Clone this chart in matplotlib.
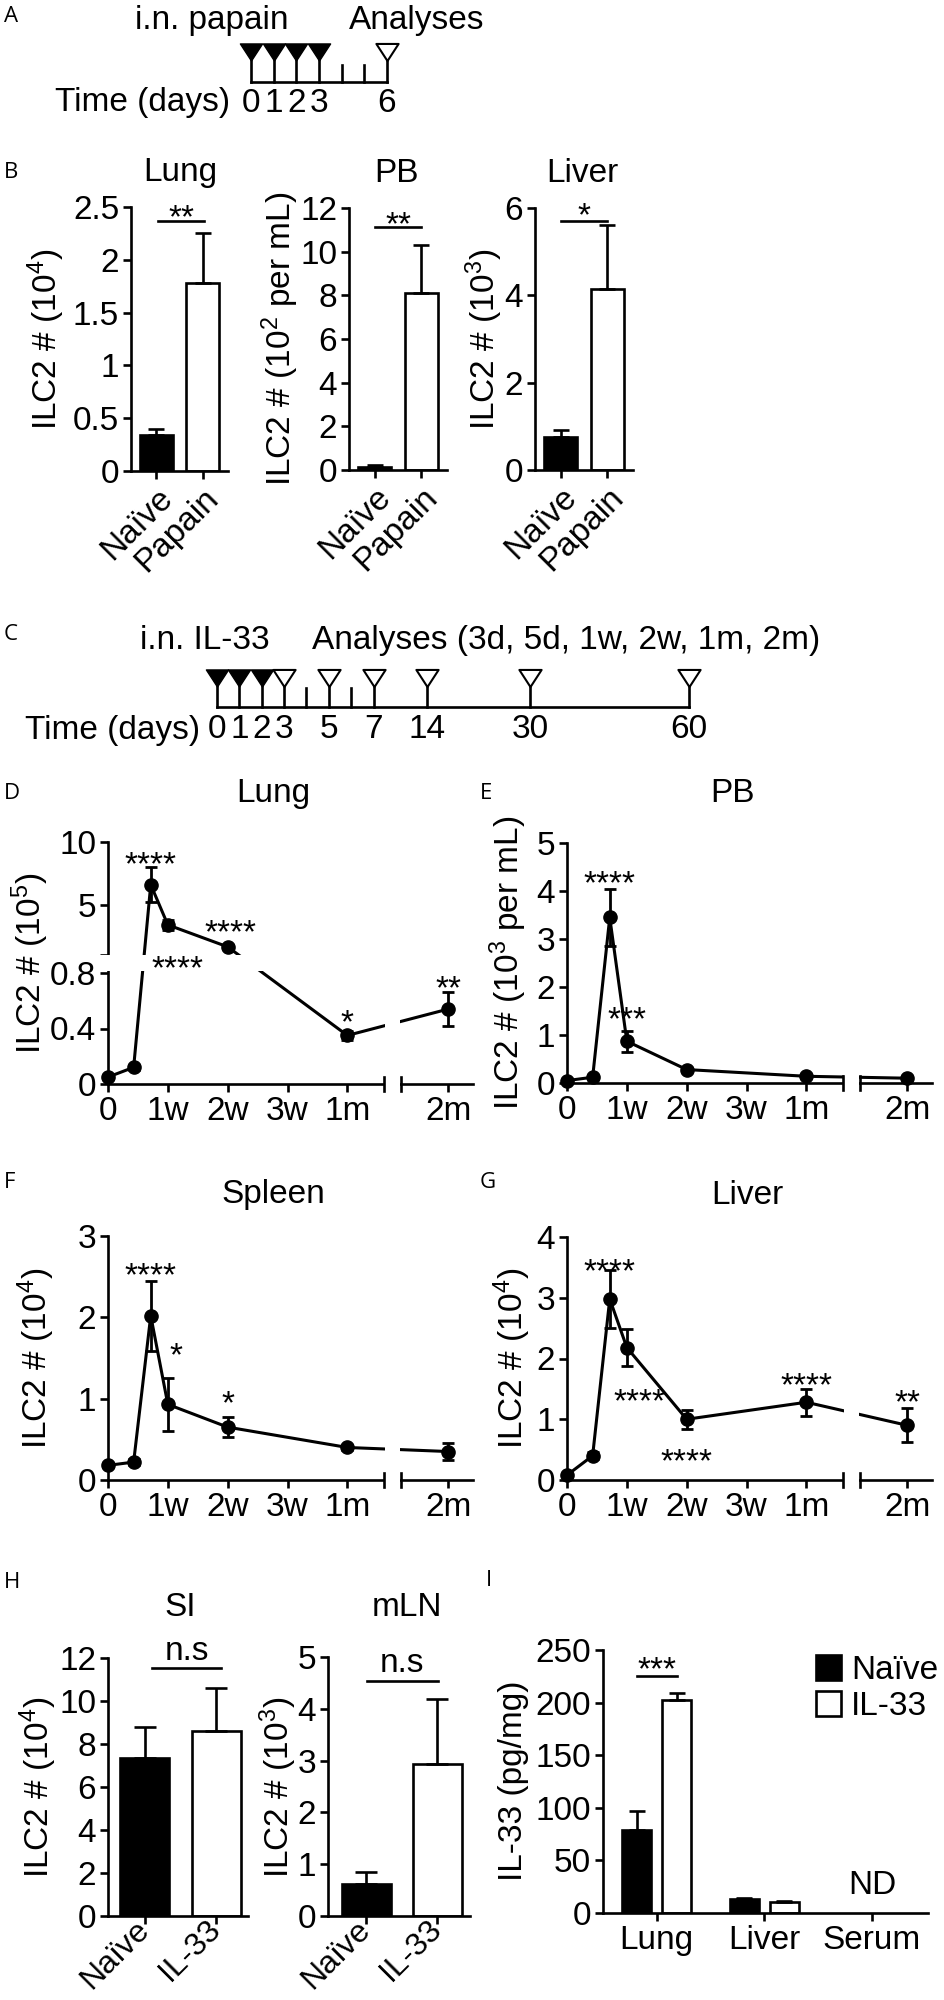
import numpy as np
import matplotlib
matplotlib.use('Agg')
import matplotlib.pyplot as plt
from matplotlib.patches import Patch
from matplotlib.path import Path

plt.rcParams['font.family'] = ['Liberation Sans', 'DejaVu Sans']
plt.rcParams['mathtext.fontset'] = 'custom'
plt.rcParams['mathtext.rm'] = 'Liberation Sans'
plt.rcParams['mathtext.it'] = 'Liberation Sans:italic'
plt.rcParams['mathtext.bf'] = 'Liberation Sans:bold'

nan = np.nan
# ---------------- data ----------------
# A: papain schedule (days)
a_days = [0, 1, 2, 3, 4, 5, 6]
a_inject_days = [0, 1, 2, 3]
a_analysis_days = [6]
a_plain_days = [4, 5]
a_label_days = [0, 1, 2, 3, 6]

# B: ILC2 numbers after papain
b_groups = ['Naïve', 'Papain']
b_lung = [0.34, 1.78]
b_lung_err = [0.06, 0.47]
b_pb = [0.15, 8.1]
b_pb_err = [0.06, 2.2]
b_liver = [0.75, 4.15]
b_liver_err = [0.17, 1.45]

# C: IL-33 schedule
c_days = [0, 1, 2, 3, 4, 5, 6, 7, 14, 30, 60]
c_inject_days = [0, 1, 2]
c_analysis_days = [3, 5, 7, 14, 30, 60]
c_plain_days = [4, 6]
c_label_days = [0, 1, 2, 3, 5, 7, 14, 30, 60]

# D-G: time course after IL-33
t_days = [0, 3, 5, 7, 14, 28, 60]
t_ticks = [0, 7, 14, 21, 28, 60]
t_ticklabels = ['0', '1w', '2w', '3w', '1m', '2m']
lung = [0.05, 0.12, 6.6, 3.4, 1.65, 0.35, 0.54]
lung_err = [0.01, 0.02, 1.4, 0.4, 0.15, 0.03, 0.12]
pb = [0.05, 0.12, 3.45, 0.87, 0.28, 0.14, 0.10]
pb_err = [0.01, 0.02, 0.6, 0.22, 0.03, 0.02, 0.02]
spleen = [0.18, 0.22, 2.02, 0.93, 0.65, 0.40, 0.35]
spleen_err = [0.02, 0.04, 0.43, 0.33, 0.12, 0.03, 0.10]
liver = [0.08, 0.40, 2.98, 2.18, 1.00, 1.28, 0.90]
liver_err = [0.02, 0.06, 0.48, 0.30, 0.16, 0.22, 0.28]

lung_sig = [(5, 9.0, '****'), (14.3, 3.6, '****'), (8.1, 0.9, '****'), (28, 0.51, '*'), (60, 0.76, '**')]
pb_sig = [(5, 4.35, '****'), (7, 1.52, '***')]
spleen_sig = [(5, 2.63, '****'), (8, 1.65, '*'), (14, 1.06, '*')]
liver_sig = [(5, 3.59, '****'), (8.5, 1.45, '****'), (14, 0.46, '****'), (28, 1.71, '****'), (60, 1.43, '**')]

# H: gut ILC2
h_groups = ['Naïve', 'IL-33']
si = [7.35, 8.6]
si_err = [1.45, 2.0]
mln = [0.62, 2.93]
mln_err = [0.22, 1.25]

# I: IL-33 protein
i_tissues = ['Lung', 'Liver', 'Serum']
i_naive = [79, 13, nan]
i_naive_err = [18, 1.0, nan]
i_il33 = [202, 10.5, nan]
i_il33_err = [7, 1.0, nan]

# ---------------- layout ----------------
W, H = 945, 2000
FS = 24
LW = 1.9
fig = plt.figure(figsize=(W / 100, H / 100), dpi=100)


def add_ax(L, T, R, B):
    return fig.add_axes([L / W, 1 - B / H, (R - L) / W, (B - T) / H])


def ft(x, y, s, **kw):
    kw.setdefault('fontsize', FS)
    return fig.text(x / W, 1 - y / H, s, **kw)


def letter(x, y, s):
    ft(x, y, s, fontsize=16, family=['Open Sans', 'DejaVu Sans'], ha='left', va='center')


def style(ax):
    for s in ['top', 'right']:
        ax.spines[s].set_visible(False)
    for s in ['left', 'bottom']:
        ax.spines[s].set_linewidth(LW)
    ax.tick_params(direction='out', length=5.5, width=LW, labelsize=FS, pad=3)


def pix_lims(L, R, p0, v0, ppu):
    return ((L - p0) / ppu + v0, (R - p0) / ppu + v0)


# ---------- A ----------
tri = Path([(-1.3, 1), (1.3, 1), (0, -1), (-1.3, 1)],
           [Path.MOVETO, Path.LINETO, Path.LINETO, Path.CLOSEPOLY])
axA = add_ax(200, 30, 440, 125)
axA.axis('off')
axA.set_xlim(*pix_lims(200, 440, 251, 0, 22.67))
axA.set_ylim(125, 30)
axA.plot([a_days[0], a_days[-1]], [82, 82], color='k', lw=LW, solid_capstyle='projecting')
for d in a_inject_days + a_analysis_days:
    axA.plot([d, d], [60, 82], color='k', lw=LW)
for d in a_plain_days:
    axA.plot([d, d], [65, 82], color='k', lw=LW)
axA.plot(a_inject_days, [51.5] * len(a_inject_days), ls='none', marker=tri, ms=16, mfc='k', mec='k')
axA.plot(a_analysis_days, [51.5] * len(a_analysis_days), ls='none', marker=tri, ms=16, mfc='white', mec='k', mew=1.5)
for d in a_label_days:
    axA.text(d, 103, str(d), ha='center', va='center', fontsize=FS)
ft(212, 20, 'i.n. papain', ha='center', va='center')
ft(349, 20, 'Analyses', ha='left', va='center')
ft(230, 103, 'Time (days)', ha='right', va='center')
letter(4, 17, 'A')


# ---------- bar helper ----------
def bar_panel(rect, centers, vals, errs, fills, ylim, yticks, ytl, xticks, xtl, xlim, width, capsize=6,
              rot=45, xfs=FS, xva='top', xpad=3):
    ax = add_ax(*rect)
    style(ax)
    ax.bar(centers, vals, width=width, color=fills, edgecolor='black', linewidth=LW, zorder=2)
    ax.errorbar(centers, vals, yerr=[np.zeros(len(vals)), errs], fmt='none', ecolor='black',
                elinewidth=LW, capsize=capsize, capthick=LW, zorder=3)
    ax.set_xlim(*xlim)
    ax.set_ylim(*ylim)
    ax.set_yticks(yticks)
    ax.set_yticklabels(ytl)
    ax.set_xticks(xticks)
    ax.tick_params(axis='x', pad=xpad)
    ax.set_xticklabels(xtl, rotation=rot, ha='right', va=xva, rotation_mode='anchor', fontsize=xfs)
    return ax


def sig(ax, x0, x1, y, ty, s, star=True):
    ax.plot([x0, x1], [y, y], color='k', lw=LW, clip_on=False)
    off = -14 if star else 0
    ax.annotate(s, ((x0 + x1) / 2, ty), xytext=(0, off), textcoords='offset points',
                ha='center', va='baseline', fontsize=FS, annotation_clip=False)


# ---------- B ----------
bx = [0, 1]
bxl = (-0.55, 1.55)
ax = bar_panel((131, 207, 228, 471), bx, b_lung, b_lung_err, ['black', 'white'], (0, 2.5),
               [0, 0.5, 1, 1.5, 2, 2.5], ['0', '0.5', '1', '1.5', '2', '2.5'], bx, b_groups, bxl, 0.7)
sig(ax, 0.04, 1.04, 2.37, 2.49, '**')
ax = bar_panel((349, 208, 447, 470), bx, b_pb, b_pb_err, ['black', 'white'], (0, 12),
               [0, 2, 4, 6, 8, 10, 12], ['0', '2', '4', '6', '8', '10', '12'], bx, b_groups, bxl, 0.7)
sig(ax, 0.0, 1.0, 11.15, 11.7, '**')
ax = bar_panel((535, 208, 633, 470), bx, b_liver, b_liver_err, ['black', 'white'], (0, 6),
               [0, 2, 4, 6], ['0', '2', '4', '6'], bx, b_groups, bxl, 0.7)
sig(ax, 0.0, 1.0, 5.7, 6.05, '*')
ft(180, 173, 'Lung', ha='center', va='center')
ft(397, 173, 'PB', ha='center', va='center')
ft(582, 173, 'Liver', ha='center', va='center')
ft(46, 339, 'ILC2 # (10$^{\\mathregular{4}}$)', rotation=90, ha='center', va='center')
ft(280, 339, 'ILC2 # (10$^{\\mathregular{2}}$ per mL)', rotation=90, ha='center', va='center')
ft(484, 339, 'ILC2 # (10$^{\\mathregular{3}}$)', rotation=90, ha='center', va='center')
letter(4, 173, 'B')

# ---------- C ----------
c_xpos = [0, 1, 2, 3, 4, 5, 6, 7, 9.4, 14.0, 21.1]
cpos = dict(zip(c_days, c_xpos))
axC = add_ax(150, 650, 720, 745)
axC.axis('off')
axC.set_xlim(*pix_lims(150, 720, 217, 0, 22.37))
axC.set_ylim(745, 650)
axC.plot([cpos[c_days[0]], cpos[c_days[-1]]], [707, 707], color='k', lw=LW, solid_capstyle='projecting')
for d in c_inject_days + c_analysis_days:
    axC.plot([cpos[d], cpos[d]], [686, 707], color='k', lw=LW)
for d in c_plain_days:
    axC.plot([cpos[d], cpos[d]], [688, 707], color='k', lw=LW)
axC.plot([cpos[d] for d in c_inject_days], [677.5] * len(c_inject_days), ls='none', marker=tri, ms=16, mfc='k', mec='k')
axC.plot([cpos[d] for d in c_analysis_days], [677.5] * len(c_analysis_days), ls='none', marker=tri, ms=16,
         mfc='white', mec='k', mew=1.5)
for d in c_label_days:
    axC.text(cpos[d], 730, str(d), ha='center', va='center', fontsize=FS)
ft(205, 640, 'i.n. IL-33', ha='center', va='center')
ft(312, 640, 'Analyses (3d, 5d, 1w, 2w, 1m, 2m)', ha='left', va='center')
ft(200, 730, 'Time (days)', ha='right', va='center')
letter(4, 635, 'C')

# ---------- D-G (broken axes) ----------
XB1, XB2, XGAP, XMAX = 32.3, 54.5, 2.0, 62.9
XSHIFT = XB2 - XB1 - XGAP


def xfwd(x):
    x = np.asarray(x, dtype=float)
    return np.where(x <= (XB1 + XB2) / 2, x, x - XSHIFT)


def xinv(t):
    t = np.asarray(t, dtype=float)
    return np.where(t <= XB1 + XGAP / 2, t, t + XSHIFT)


YL_TOP, YL_PX, YG_PX, YU_BOT, YU_TOP, YU_PX = 0.8, 111.0, 18.0, 1.0, 10.0, 113.0


def yfwd(y):
    y = np.asarray(y, dtype=float)
    return np.where(y <= 0.9, y * YL_PX / YL_TOP, YL_PX + YG_PX + (y - YU_BOT) * YU_PX / (YU_TOP - YU_BOT))


def yinv(t):
    t = np.asarray(t, dtype=float)
    return np.where(t <= YL_PX + YG_PX / 2, t * YL_TOP / YL_PX,
                    YU_BOT + (t - YL_PX - YG_PX) * (YU_TOP - YU_BOT) / YU_PX)


def line_panel(rect, vals, errs, ylim, yticks, ytl, sigs, ybreak=False):
    ax = add_ax(*rect)
    style(ax)
    ax.set_xscale('function', functions=(xfwd, xinv))
    if ybreak:
        ax.set_yscale('function', functions=(yfwd, yinv))
    ax.set_xlim(0, XMAX)
    ax.set_ylim(*ylim)
    cont = ax.errorbar(t_days, vals, yerr=errs, fmt='-o', color='black', lw=2.2, ms=9.5,
                       elinewidth=2, capsize=4, capthick=2, zorder=2.2)
    for art in cont.get_children():
        art.set_clip_on(False)
    ax.set_xticks(t_ticks)
    ax.set_xticklabels(t_ticklabels)
    ax.set_yticks(yticks)
    ax.set_yticklabels(ytl)
    ax.minorticks_off()
    # x break
    ax.axvspan(XB1 + 0.15, XB2 - 0.15, ymin=-0.05, ymax=1.0, color='white', zorder=2.6, clip_on=False, lw=0)
    for xb in (XB1, XB2):
        ax.plot([xb, xb], [-0.03, 0.03], transform=ax.get_xaxis_transform(), color='k', lw=LW,
                clip_on=False, zorder=2.7)
    if ybreak:
        ax.axhspan(0.812, 0.988, xmin=-0.025, xmax=1.0, color='white', zorder=2.6, clip_on=False, lw=0)
    for x, y, s in sigs:
        ax.annotate(s, (x, y), xytext=(0, -14), textcoords='offset points', ha='center', va='baseline',
                    fontsize=FS, annotation_clip=False, zorder=5)
    return ax


line_panel((108, 842, 473, 1084), lung, lung_err, (0, 10), [0, 0.4, 0.8, 1, 5, 10],
           ['0', '0.4', '0.8', '', '5', '10'], lung_sig, ybreak=True)
line_panel((567, 843, 932, 1083), pb, pb_err, (0, 5), [0, 1, 2, 3, 4, 5],
           ['0', '1', '2', '3', '4', '5'], pb_sig)
line_panel((108, 1236, 473, 1480), spleen, spleen_err, (0, 3), [0, 1, 2, 3],
           ['0', '1', '2', '3'], spleen_sig)
line_panel((567, 1237, 932, 1480), liver, liver_err, (0, 4), [0, 1, 2, 3, 4],
           ['0', '1', '2', '3', '4'], liver_sig)
ft(273, 793, 'Lung', ha='center', va='center')
ft(733, 793, 'PB', ha='center', va='center')
ft(273, 1195, 'Spleen', ha='center', va='center')
ft(747, 1195, 'Liver', ha='center', va='center')
ft(30, 963, 'ILC2 # (10$^{\\mathregular{5}}$)', rotation=90, ha='center', va='center')
ft(508, 963, 'ILC2 # (10$^{\\mathregular{3}}$ per mL)', rotation=90, ha='center', va='center')
ft(36, 1358, 'ILC2 # (10$^{\\mathregular{4}}$)', rotation=90, ha='center', va='center')
ft(512, 1358, 'ILC2 # (10$^{\\mathregular{4}}$)', rotation=90, ha='center', va='center')
letter(4, 793, 'D')
letter(480, 793, 'E')
letter(4, 1182, 'F')
letter(480, 1182, 'G')

# ---------- H ----------
hx = [0, 1]
ax = bar_panel((108, 1658, 248, 1916), hx, si, si_err, ['black', 'white'], (0, 12),
               [0, 2, 4, 6, 8, 10, 12], ['0', '2', '4', '6', '8', '10', '12'], hx, h_groups,
               (-0.52, 1.45), 0.69, capsize=8, xfs=23, xva='center', xpad=1)
sig(ax, 0.1, 1.07, 11.55, 11.9, 'n.s', star=False)
ax = bar_panel((328, 1657, 470, 1916), hx, mln, mln_err, ['black', 'white'], (0, 5),
               [0, 1, 2, 3, 4, 5], ['0', '1', '2', '3', '4', '5'], hx, h_groups,
               (-0.535, 1.46), 0.69, capsize=8, xfs=23, xva='center', xpad=1)
sig(ax, 0.01, 1.01, 4.54, 4.71, 'n.s', star=False)
ft(180, 1607, 'SI', ha='center', va='center')
ft(407, 1607, 'mLN', ha='center', va='center')
ft(38, 1787, 'ILC2 # (10$^{\\mathregular{4}}$)', rotation=90, ha='center', va='center')
ft(278, 1787, 'ILC2 # (10$^{\\mathregular{3}}$)', rotation=90, ha='center', va='center')
letter(4, 1582, 'H')

# ---------- I ----------
ix = np.arange(len(i_tissues))
off = 0.186
axI = add_ax(603, 1650, 928, 1913)
style(axI)
axI.bar(ix - off, i_naive, width=0.27, color='black', edgecolor='black', linewidth=LW, zorder=2)
axI.bar(ix + off, i_il33, width=0.27, color='white', edgecolor='black', linewidth=LW, zorder=2)
axI.errorbar(ix - off, i_naive, yerr=[np.zeros(3), i_naive_err], fmt='none', ecolor='k', elinewidth=LW,
             capsize=6, capthick=LW, zorder=3)
axI.errorbar(ix + off, i_il33, yerr=[np.zeros(3), i_il33_err], fmt='none', ecolor='k', elinewidth=LW,
             capsize=6, capthick=LW, zorder=3)
axI.set_xlim(-0.5, 2.52)
axI.set_ylim(0, 250)
axI.set_yticks([0, 50, 100, 150, 200, 250])
axI.set_xticks(ix)
axI.set_xticklabels(i_tissues)
sig(axI, -off, off, 225, 241, '***')
axI.text(2, 26, 'ND', ha='center', va='center', fontsize=FS)
axI.legend([Patch(facecolor='black', edgecolor='black', lw=LW), Patch(facecolor='white', edgecolor='black', lw=LW)],
           ['Naïve', 'IL-33'], loc='upper left', bbox_to_anchor=(816 / W, 1 - 1655 / H),
           bbox_transform=fig.transFigure, frameon=False, fontsize=FS, handlelength=0.75, handleheight=0.75,
           handletextpad=0.3, labelspacing=0.15, borderpad=0, borderaxespad=0)
ft(514, 1781, 'IL-33 (pg/mg)', rotation=90, ha='center', va='center')
letter(486, 1580, 'I')

fig.savefig('out.png', dpi=100)
